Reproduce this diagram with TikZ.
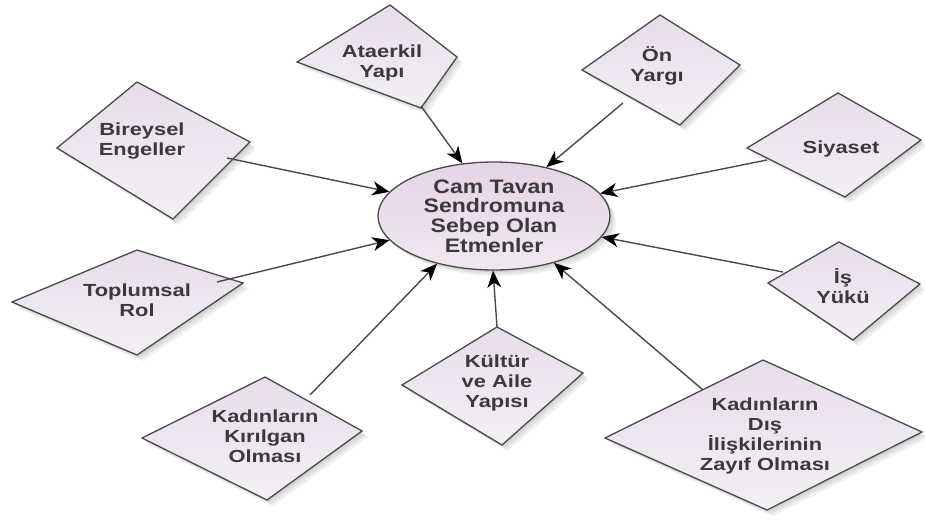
\documentclass[tikz,border=0pt]{standalone}
\usepackage{fontspec}
\setmainfont{Liberation Sans}
\newfontfamily\dfont[FakeStretch=1.25]{Liberation Sans}
\newfontfamily\efont[FakeStretch=1.18]{Liberation Sans}
\usetikzlibrary{arrows.meta,shapes.geometric}
\definecolor{dfillA}{HTML}{E7DDEB}
\definecolor{dfillB}{HTML}{F4EFF5}
\definecolor{efillA}{HTML}{E6D3E7}
\definecolor{efillB}{HTML}{F1E8F1}
\definecolor{edgec}{HTML}{4A4A4A}
\definecolor{txt}{HTML}{3A3A3A}
\tikzset{
  dshape/.style={draw=edgec, line width=1.3pt, top color=dfillA, bottom color=dfillB},
  dtext/.style={font=\dfont\bfseries\fontsize{17.5}{19.8}\selectfont, text=txt, align=center, inner sep=0pt},
  etext/.style={ellipse, draw=edgec, line width=1.3pt, top color=efillA, bottom color=efillB,
     minimum width=232pt, minimum height=108pt, inner sep=0pt, align=center, text=txt,
     font=\efont\bfseries\fontsize{19.5}{19.8}\selectfont},
  conn/.style={draw=edgec, line width=1.4pt, -{Stealth[length=17pt,width=14pt,inset=5pt,black]}},
}
\newcommand\mydmd[4]{%
  \foreach \o in {2,4,6}{\fill[black,opacity=0.06,shift={(\o,\o)}] #1 -- #2 -- #3 -- #4 -- cycle;}
  \draw[dshape] #1 -- #2 -- #3 -- #4 -- cycle;}
\begin{document}
\begin{tikzpicture}[x=1pt,y=-1pt]
\useasboundingbox[fill=white] (0,0) rectangle (925,524);
% diamonds
\mydmd{(390,5)}{(457,57)}{(421,108)}{(297,62)}
\mydmd{(660,15)}{(740,65)}{(680,125)}{(582,70)}
\mydmd{(137,82)}{(250,142)}{(173,219)}{(57,148)}
\mydmd{(838,93)}{(921,140)}{(845,197)}{(747,148)}
\mydmd{(137,250)}{(243,283)}{(137,355)}{(12,302)}
\mydmd{(839,242)}{(920,284)}{(853,340)}{(768,283)}
\mydmd{(265,377)}{(362,431)}{(267,500)}{(142,438)}
\mydmd{(497,327)}{(583,373)}{(502,445)}{(402,385)}
\mydmd{(763,360)}{(922,432)}{(767,510)}{(605,438)}
% ellipse shadow
\foreach \o in {2,4,6}{\fill[black,opacity=0.06] (494+\o,216+\o) ellipse [x radius=116, y radius=54];}
\node[etext] (ell) at (494,216) {Cam Tavan\\Sendromuna\\Sebep Olan\\Etmenler};
% texts
\node[dtext] (ata) at (382,63) {Ataerkil\\Yapı};
\node[dtext] (on) at (657,66) {Ön\\Yargı};
\node[dtext] (bir) at (142,141) {Bireysel\\Engeller};
\node[dtext] (siy) at (841,149) {Siyaset};
\node[dtext] (top) at (137,300) {Toplumsal\\Rol};
\node[dtext] (is) at (843,286) {İş\\Yükü};
\node[dtext] (kir) at (265,436) {Kadınların\\Kırılgan\\Olması};
\node[dtext] (kul) at (497,383) {Kültür\\ve Aile\\Yapısı};
\node[dtext] (dis) at (765,436) {Kadınların\\Dış\\İlişkilerinin\\Zayıf Olması};
% connector start points on diamond borders
\coordinate (sata) at (421,106);
\coordinate (son) at (623,103);
\coordinate (sbir) at (227,158);
\coordinate (ssiy) at (767,160);
\coordinate (stop) at (217,282);
\coordinate (sis) at (783,272);
\coordinate (skir) at (310,395);
\coordinate (skul) at (497,327);
\coordinate (sdis) at (703,390);
% connectors
\draw[conn] (sata) -- (ell.121);
\draw[conn] (son) -- (ell.43);
\draw[conn] (sbir) -- (ell.167);
\draw[conn] (ssiy) -- (ell.12);
\draw[conn] (sis) -- (ell.-11);
\draw[conn] (stop) -- (ell.193);
\draw[conn] (skir) -- (ell.220);
\draw[conn] (skul) -- (ell.269);
\draw[conn] (sdis) -- (ell.-38);
\end{tikzpicture}
\end{document}
